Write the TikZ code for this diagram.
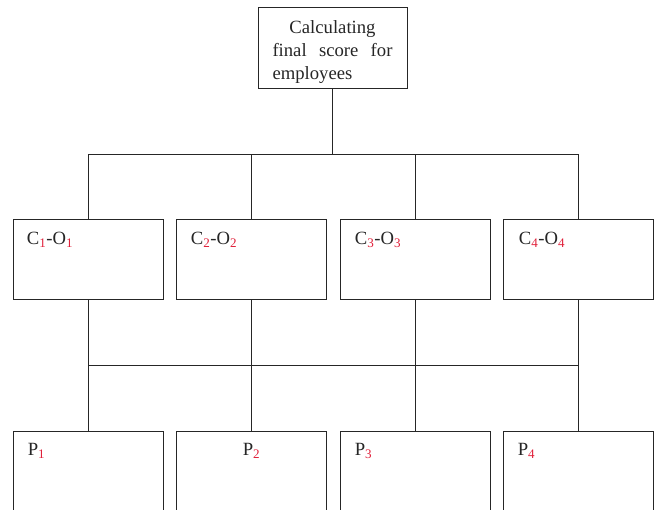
\documentclass[tikz,border=0pt]{standalone}
\usepackage{fontspec}
\setmainfont{Liberation Serif}
\usepackage{xcolor}
\usetikzlibrary{positioning}
\definecolor{Ink}{HTML}{262626}
\definecolor{SubRed}{HTML}{E0203A}
\newcommand{\rsub}[1]{\textsubscript{\textcolor{SubRed}{#1}}}

\begin{document}
\begin{tikzpicture}[
  x=0.75pt, y=-0.75pt,
  font=\fontsize{14}{17.25}\selectfont,
  box/.style={draw=Ink, line width=0.65pt, minimum width=112.5pt, minimum height=60pt, inner sep=0pt},
  topbox/.style={box, minimum width=111.75pt, minimum height=60.75pt},
  tag/.style={anchor=base west, inner sep=0pt, text=Ink},
  wire/.style={draw=Ink, line width=0.65pt}
]
\useasboundingbox (0,0) rectangle (657,510);

% root
\node[topbox] (top) at (332.5,47.5) {};
\node[inner sep=0pt, text=Ink, align=left, text width=90pt, anchor=north] (toptext) at ([yshift=-10]top.north)
  {\makebox[90pt][c]{Calculating}\\\makebox[90pt][s]{final\hfill score\hfill for}\\employees};

% criteria / objectives
\node[box] (c1) at (88,259) {};
\node[box] (c2) at (251,259) {};
\node[box] (c3) at (415,259) {};
\node[box] (c4) at (578,259) {};

% parts
\node[box] (p1) at (88,471) {};
\node[box] (p2) at (251,471) {};
\node[box] (p3) at (415,471) {};
\node[box] (p4) at (578,471) {};

\node[tag] at ([shift={(14,26)}]c1.north west) {C\rsub{1}-O\rsub{1}};
\node[tag] at ([shift={(15,26)}]c2.north west) {C\rsub{2}-O\rsub{2}};
\node[tag] at ([shift={(15,26)}]c3.north west) {C\rsub{3}-O\rsub{3}};
\node[tag] at ([shift={(16,26)}]c4.north west) {C\rsub{4}-O\rsub{4}};

\node[tag] at ([shift={(15,25)}]p1.north west) {P\rsub{1}};
\node[tag] at ([shift={(67,25)}]p2.north west) {P\rsub{2}};
\node[tag] at ([shift={(15,25)}]p3.north west) {P\rsub{3}};
\node[tag] at ([shift={(15,25)}]p4.north west) {P\rsub{4}};

\coordinate (busA) at (0,154);
\coordinate (busB) at (0,365);

\draw[wire] (top.south) -- (top.south |- busA);
\draw[wire] (c1.north |- busA) -- (c4.north |- busA);
\draw[wire] (c1.south |- busB) -- (c4.south |- busB);
\foreach \n in {1,...,4} {
  \draw[wire] (c\n.north |- busA) -- (c\n.north);
  \draw[wire] (c\n.south) -- (p\n.north);
}
\end{tikzpicture}
\end{document}
